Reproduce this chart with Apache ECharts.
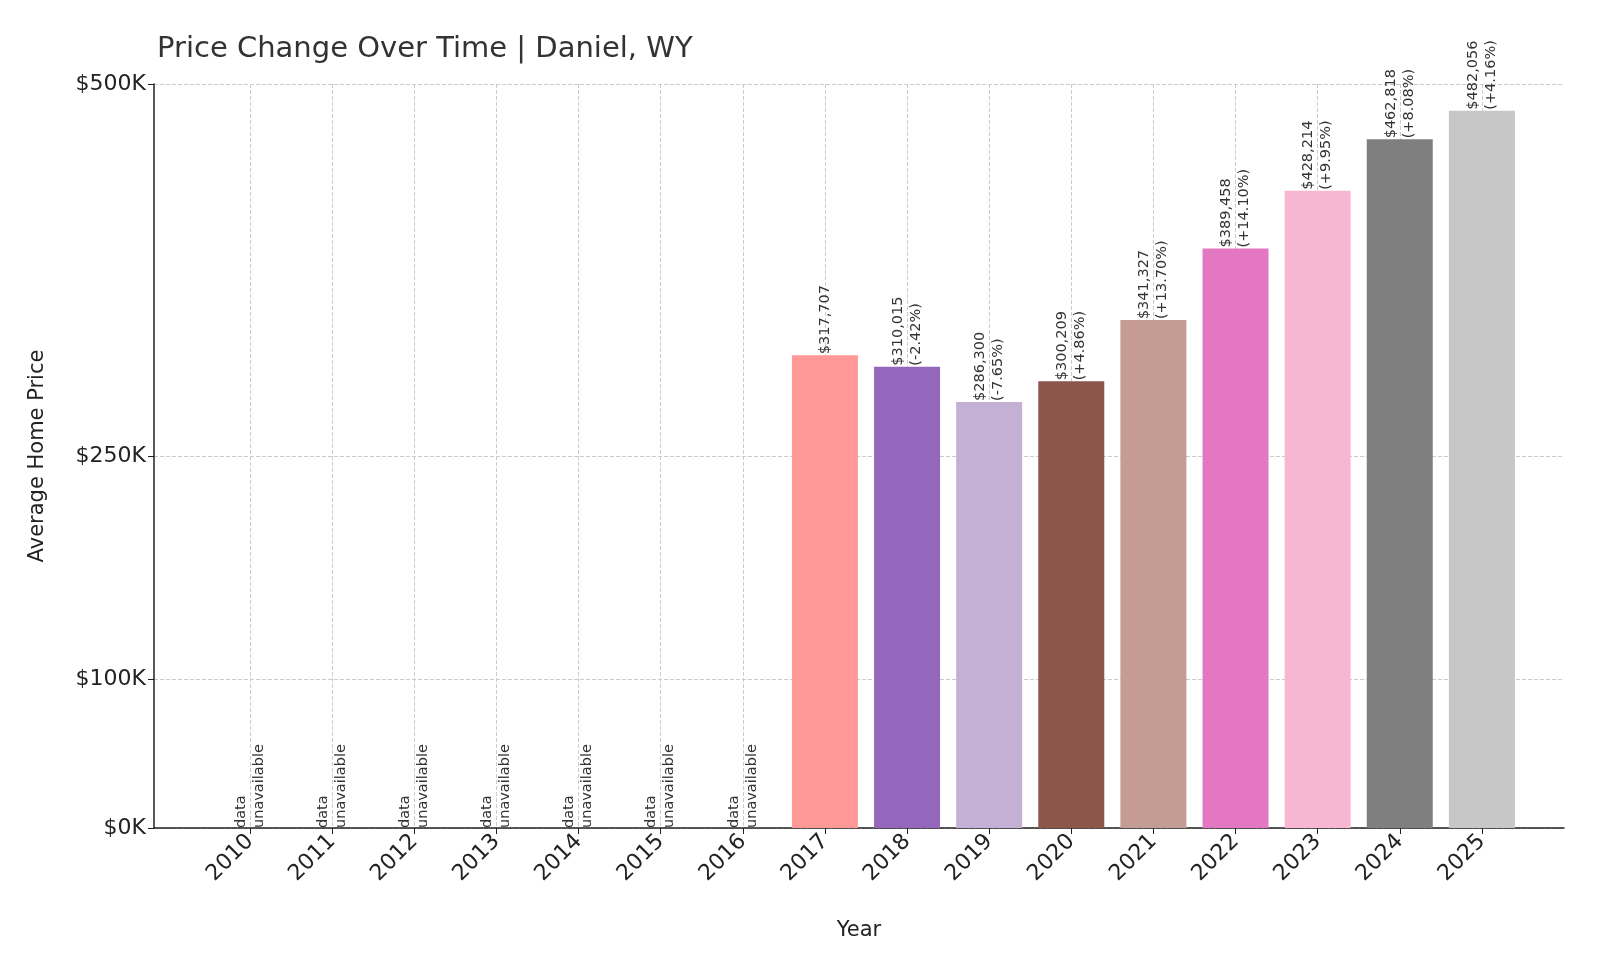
<!DOCTYPE html>
<html><head><meta charset="utf-8">
<script src="https://cdn.jsdelivr.net/npm/echarts@6/dist/echarts.min.js"></script>
<style>html,body{margin:0;background:#fff}#main{width:1600px;height:960px}</style>
</head><body><div id="main"></div>
<script>
var years = [2010, 2011, 2012, 2013, 2014, 2015, 2016, 2017, 2018, 2019, 2020, 2021, 2022, 2023, 2024, 2025];
var prices = [null, null, null, null, null, null, null, 317707, 310015, 286300, 300209, 341327, 389458, 428214, 462818, 482056];
var changes = [null, null, null, null, null, null, null, null, '-2.42%', '-7.65%', '+4.86%', '+13.70%', '+14.10%', '+9.95%', '+8.08%', '+4.16%'];
var colors = ['', '', '', '', '', '', '', '#ff9896', '#9467bd', '#c5b0d5', '#8c564b', '#c49c94', '#e377c2', '#f7b6d2', '#7f7f7f', '#c7c7c7'];
var yTicks = [0, 100000, 250000, 500000];

var font = 'DejaVu Sans';
var data = [];
for (var i = 0; i < years.length; i++) {
    var p = prices[i];
    var txt;
    if (p == null) txt = 'data\nunavailable';
    else txt = '$' + p.toLocaleString('en-US') + (changes[i] ? '\n(' + changes[i] + ')' : '');
    data.push({
        value: [years[i], p == null ? 0 : p],
        itemStyle: { color: colors[i] || 'transparent' },
        label: { formatter: txt }
    });
}

var myChart = echarts.init(document.getElementById('main'));
var option = {
    animation: false,
    textStyle: { fontFamily: font },
    title: {
        text: 'Price Change Over Time | Daniel, WY',
        left: 152, top: 30,
        textStyle: { fontFamily: font, fontSize: 29, fontWeight: 'normal', color: '#333' }
    },
    grid: { left: 154, right: 36, top: 84, bottom: 132 },
    xAxis: {
        type: 'value', min: 2008.83, max: 2026.0,
        name: 'Year', nameLocation: 'middle', nameGap: 92,
        nameTextStyle: { fontSize: 21, color: '#222' },
        axisLine: { show: true, onZero: false, lineStyle: { color: '#222', width: 1.5 } },
        axisTick: { show: true, customValues: years, length: 6, lineStyle: { color: '#222' } },
        axisLabel: { customValues: years, rotate: 45, fontSize: 22, color: '#222', margin: 10, formatter: function (v) { return String(v); } },
        splitLine: { show: true, customValues: years, lineStyle: { type: 'dashed', color: '#ccc' } }
    },
    yAxis: {
        type: 'value', min: 0, max: 500000,
        name: 'Average Home Price', nameLocation: 'middle', nameGap: 106,
        nameTextStyle: { fontSize: 21, color: '#222' },
        axisLine: { show: true, lineStyle: { color: '#222', width: 1.5 } },
        axisTick: { show: true, customValues: yTicks, length: 6, lineStyle: { color: '#222' } },
        axisLabel: { customValues: yTicks, fontSize: 22, color: '#222', formatter: function (v) { return '$' + (v / 1000) + 'K'; } },
        splitLine: { show: true, customValues: yTicks, lineStyle: { type: 'dashed', color: '#ccc' } }
    },
    series: [{
        type: 'bar',
        barWidth: 66,
        data: data,
        label: {
            show: true, position: 'insideBottom', rotate: 90,
            align: 'left', verticalAlign: 'middle', distance: 0,
            fontSize: 14.5, lineHeight: 18, color: '#333'
        },
        labelLayout: function (params) {
            var d = data[params.dataIndex];
            if (d.value[1] > 0) {
                return { y: params.rect.y - 1 };
            }
            return {};
        }
    }]
};
myChart.setOption(option);
</script>
</body></html>
